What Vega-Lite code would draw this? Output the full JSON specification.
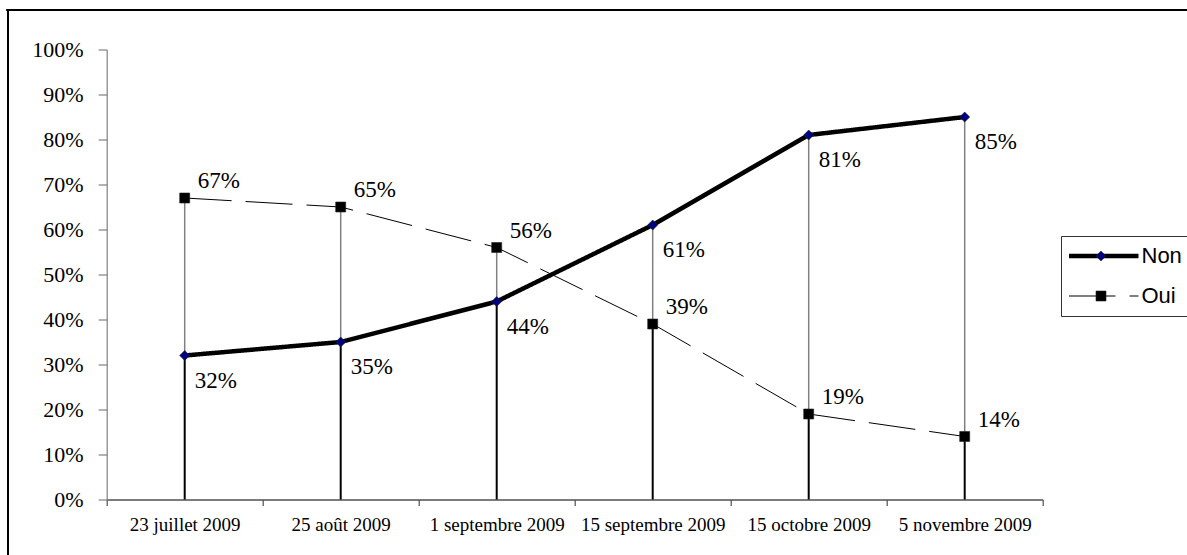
{
  "$schema": "https://vega.github.io/schema/vega-lite/v6.json",
  "width": 936,
  "height": 450,
  "autosize": "none",
  "padding": {"left": 106.7, "top": 49.5, "right": 144.3, "bottom": 55.5},
  "background": "white",
  "config": {
    "view": {"stroke": null},
    "font": "Liberation Serif",
    "axisX": {
      "title": null, "grid": false,
      "domain": true, "domainColor": "#505050", "domainWidth": 1.3,
      "tickSize": 6, "tickColor": "#505050", "tickWidth": 1.2,
      "labelFont": "Liberation Serif", "labelFontSize": 19, "labelColor": "#000000",
      "labelPadding": 10, "labelOverlap": false, "labelBound": false, "labelFlush": false
    },
    "axisY": {
      "title": null, "grid": false,
      "domain": true, "domainColor": "#808080", "domainWidth": 1.2,
      "tickSize": 8.5, "tickColor": "#808080", "tickWidth": 1.2,
      "labelFont": "Liberation Serif", "labelFontSize": 22, "labelColor": "#000000",
      "labelPadding": 15, "labelOverlap": false, "labelBound": false, "labelFlush": false
    }
  },
  "data": {
    "values": [
      {"date": "23 juillet 2009", "idx": 0, "series": "Non", "value": 0.32},
      {"date": "25 août 2009", "idx": 1, "series": "Non", "value": 0.35},
      {"date": "1 septembre 2009", "idx": 2, "series": "Non", "value": 0.44},
      {"date": "15 septembre 2009", "idx": 3, "series": "Non", "value": 0.61},
      {"date": "15 octobre 2009", "idx": 4, "series": "Non", "value": 0.81},
      {"date": "5 novembre 2009", "idx": 5, "series": "Non", "value": 0.85},
      {"date": "23 juillet 2009", "idx": 0, "series": "Oui", "value": 0.67},
      {"date": "25 août 2009", "idx": 1, "series": "Oui", "value": 0.65},
      {"date": "1 septembre 2009", "idx": 2, "series": "Oui", "value": 0.56},
      {"date": "15 septembre 2009", "idx": 3, "series": "Oui", "value": 0.39},
      {"date": "15 octobre 2009", "idx": 4, "series": "Oui", "value": 0.19},
      {"date": "5 novembre 2009", "idx": 5, "series": "Oui", "value": 0.14}
    ]
  },
  "encoding": {
    "x": {
      "field": "idx", "type": "quantitative",
      "scale": {"domain": [-0.5, 5.5], "nice": false, "zero": false},
      "axis": {
        "title": null,
        "values": [-0.5, 0.5, 1.5, 2.5, 3.5, 4.5, 5.5],
        "labelOffset": 78,
        "labelExpr": "['23 juillet 2009','25 août 2009','1 septembre 2009','15 septembre 2009','15 octobre 2009','5 novembre 2009'][datum.value + 0.5] || ''"
      }
    },
    "y": {
      "field": "value", "type": "quantitative",
      "scale": {"domain": [0, 1], "nice": false, "zero": false},
      "axis": {"title": null, "values": [0, 0.1, 0.2, 0.3, 0.4, 0.5, 0.6, 0.7, 0.8, 0.9, 1], "format": ".0%"}
    }
  },
  "layer": [
    {
      "transform": [{"aggregate": [{"op": "min", "field": "value", "as": "value"}, {"op": "max", "field": "value", "as": "hi"}], "groupby": ["idx"]}],
      "mark": {"type": "rule", "color": "#808080", "strokeWidth": 1.5},
      "encoding": {"y2": {"field": "hi"}}
    },
    {
      "transform": [{"aggregate": [{"op": "min", "field": "value", "as": "value"}], "groupby": ["idx"]}],
      "mark": {"type": "rule", "color": "#000000", "strokeWidth": 2},
      "encoding": {"y2": {"datum": 0}}
    },
    {
      "mark": {"type": "rule", "color": "#000000", "strokeWidth": 2},
      "encoding": {
        "x": {"datum": -1.14, "type": "quantitative", "scale": {"domain": [-0.5, 5.5], "nice": false, "zero": false}, "axis": {"title": null}},
        "x2": {"datum": 6.5},
        "y": {"datum": 1.08778, "type": "quantitative", "scale": {"domain": [0, 1], "nice": false, "zero": false}, "axis": {"title": null}}
      }
    },
    {
      "mark": {"type": "rule", "color": "#000000", "strokeWidth": 2},
      "encoding": {
        "x": {"datum": -1.13269, "type": "quantitative", "scale": {"domain": [-0.5, 5.5], "nice": false, "zero": false}, "axis": {"title": null}},
        "y": {"datum": -0.125, "type": "quantitative", "scale": {"domain": [0, 1], "nice": false, "zero": false}, "axis": {"title": null}},
        "y2": {"datum": 1.08778}
      }
    },
    {
      "mark": {"type": "line"},
      "encoding": {
        "stroke": {
          "field": "series", "type": "nominal",
          "scale": {"range": ["#000000", "#000000"]},
          "legend": {
            "title": null, "orient": "none", "legendX": 954.3, "legendY": 186.5, "padding": 8,
            "strokeColor": "#333333", "fillColor": "#ffffff",
            "symbolType": "stroke", "symbolSize": 4900, "symbolOffset": -3, "clipHeight": 24, "rowPadding": 16,
            "labelFont": "Liberation Sans", "labelFontSize": 22, "labelColor": "#000000", "labelOffset": 0.5,
            "zindex": 1
          }
        },
        "strokeWidth": {"field": "series", "type": "ordinal", "scale": {"range": [4.5, 1]}},
        "strokeDash": {"field": "series", "type": "nominal", "scale": {"range": [[1, 0], [47, 14]]}}
      }
    },
    {
      "mark": {"type": "point", "filled": true, "size": 100, "stroke": "#222222", "strokeWidth": 0.6, "opacity": 1},
      "encoding": {
        "fill": {
          "field": "series", "type": "nominal",
          "scale": {"domain": ["Non", "Oui"], "range": ["#000080", "#000000"]},
          "legend": {
            "title": null, "orient": "none", "legendX": 954.3, "legendY": 186.5, "padding": 8,
            "symbolSize": 100, "clipHeight": 24, "rowPadding": 16, "symbolOffset": 21,
            "symbolStrokeColor": "#222222", "symbolStrokeWidth": 0.6,
            "labelFont": "Liberation Sans", "labelFontSize": 22, "labelOpacity": 0,
            "zindex": 2
          }
        },
        "shape": {"field": "series", "type": "nominal", "scale": {"domain": ["Non", "Oui"], "range": ["diamond", "square"]}}
      }
    },
    {
      "transform": [{"filter": "datum.series === 'Non'"}],
      "mark": {"type": "text", "font": "Liberation Serif", "fontSize": 23, "align": "left", "baseline": "middle", "dx": 10, "dy": 25, "color": "#000000"},
      "encoding": {"text": {"field": "value", "type": "quantitative", "format": ".0%"}}
    },
    {
      "transform": [{"filter": "datum.series === 'Oui'"}],
      "mark": {"type": "text", "font": "Liberation Serif", "fontSize": 23, "align": "left", "baseline": "middle", "dx": 13, "dy": -17, "color": "#000000"},
      "encoding": {"text": {"field": "value", "type": "quantitative", "format": ".0%"}}
    }
  ]
}
